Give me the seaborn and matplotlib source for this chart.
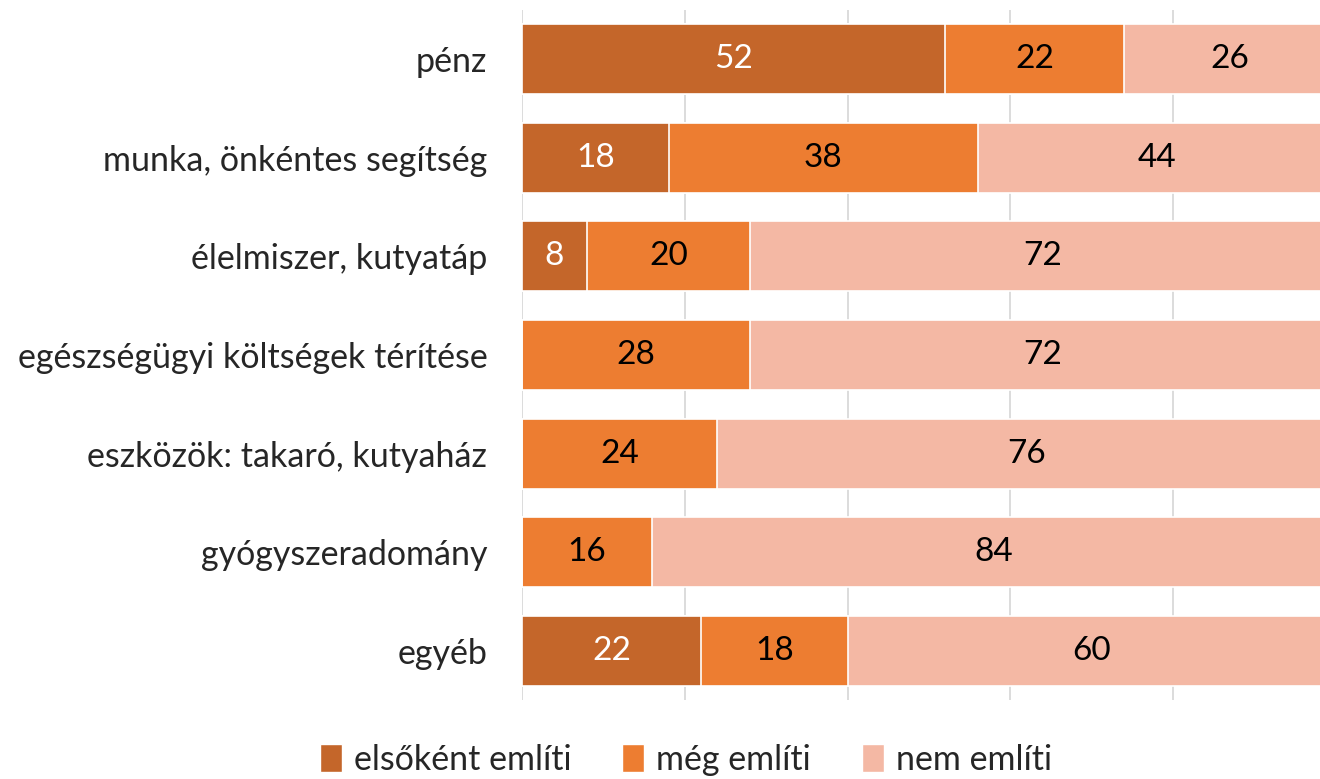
import pandas as pd
import numpy as np
from matplotlib import pyplot as plt
from matplotlib.patches import Patch
import seaborn as sns

# chart data
categories = ["pénz", "munka, önkéntes segítség", "élelmiszer, kutyatáp",
              "egészségügyi költségek térítése", "eszközök: takaró, kutyaház",
              "gyógyszeradomány", "egyéb"]
first_mention = [52, 18, 8, 0, 0, 0, 22]
other_mention = [22, 38, 20, 28, 24, 16, 18]
no_mention = [26, 44, 72, 72, 76, 84, 60]
series_names = ["elsőként említi", "még említi", "nem említi"]
colors = ["#C4662A", "#ED7D31", "#F4B8A4"]

df = pd.DataFrame({"cat": categories, "first": first_mention,
                   "other": other_mention, "none": no_mention})
df["c1"] = df["first"]
df["c2"] = df["first"] + df["other"]
df["c3"] = df["c2"] + df["none"]

sns.set_style("white")
plt.rcParams["font.family"] = ["Lato", "DejaVu Sans"]

fig = plt.figure(figsize=(13.2, 7.79), dpi=100)
# axes runs a little past the right edge, like the cropped original
ax = fig.add_axes([522 / 1320, 1 - 700 / 779, 814 / 1320, 690 / 779])

# stacked bars: draw cumulative totals from the back
for col, color in zip(["c3", "c2", "c1"], colors[::-1]):
    sns.barplot(data=df, x=col, y="cat", color=color, orient="h",
                width=0.71, edgecolor="white", linewidth=1.2, ax=ax,
                saturation=1, zorder=3)

# segment labels
for i, row in df.iterrows():
    starts = [0, row["c1"], row["c2"]]
    vals = [row["first"], row["other"], row["none"]]
    for k, (s, v) in enumerate(zip(starts, vals)):
        if v == 0:
            continue
        ax.text(s + v / 2, i, str(v), ha="center", va="center",
                fontsize=24, color="white" if k == 0 else "black", zorder=5)

ax.set_xlim(0, 100)
ax.set_ylim(6.5, -0.5)
ax.set_xticks([0, 20, 40, 60, 80, 100])
ax.set_xticklabels([])
ax.xaxis.grid(True, color="#D9D9D9", linewidth=1.3)
ax.set_axisbelow(True)
ax.set_xlabel("")
ax.set_ylabel("")
ax.tick_params(axis="y", labelsize=24.5, length=0, pad=25)
ax.tick_params(axis="x", length=0)
for sp in ax.spines.values():
    sp.set_visible(False)

handles = [Patch(facecolor=c, label=n) for c, n in zip(colors, series_names)]
leg = fig.legend(handles=handles, loc="center", ncol=3, frameon=False,
                 fontsize=24.5, handlelength=0.65, handleheight=0.9,
                 handletextpad=0.35, columnspacing=1.5,
                 bbox_to_anchor=(686 / 1320, 1 - 760 / 779))

fig.savefig("out.png", dpi=100)
